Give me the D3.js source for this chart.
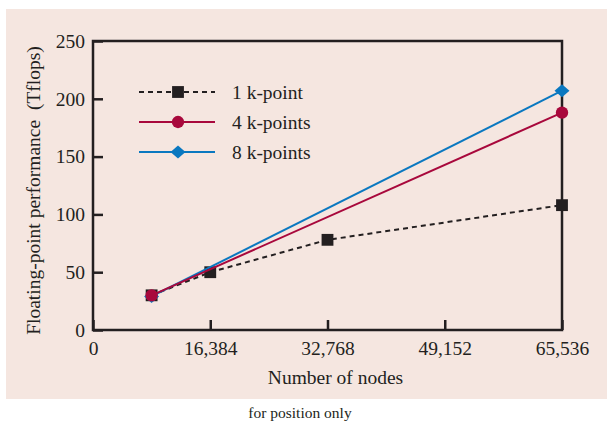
<!DOCTYPE html>
<html>
<head>
<meta charset="utf-8">
<script src="https://cdn.jsdelivr.net/npm/d3@7"></script>
<style>
  body { margin: 0; background: #fff; }
  svg text { font-family: "Liberation Serif", "Times New Roman", serif; fill: #231f20; }
</style>
</head>
<body>
<script>
const nodes1 = [8192, 16384, 32768, 65536]
const perf1 = [30, 50, 78, 108]
const nodes4 = [8192, 65536]
const perf4 = [30, 188]
const nodes8 = [8192, 65536]
const perf8 = [29, 207]
const xTicks = [0, 16384, 32768, 49152, 65536]
const yTicks = [0, 50, 100, 150, 200, 250]

// square turned 45 degrees, a bit wider than tall
const wideDiamond = {
  draw(ctx, size) {
    const h = Math.sqrt(size) * 0.62
    const w = h * 1.15
    ctx.moveTo(-w, 0)
    ctx.lineTo(0, -h)
    ctx.lineTo(w, 0)
    ctx.lineTo(0, h)
    ctx.closePath()
  }
}

const series = [
  { name: '1 k-point', xs: nodes1, ys: perf1, color: '#231f20', dash: '5,4', shape: d3.symbolSquare, size: 140 },
  { name: '8 k-points', xs: nodes8, ys: perf8, color: '#0a78c0', dash: null, shape: wideDiamond, size: 110 },
  { name: '4 k-points', xs: nodes4, ys: perf4, color: '#a8083c', dash: null, shape: d3.symbolCircle, size: 120 }
]
const legendOrder = ['1 k-point', '4 k-points', '8 k-points']

const width = 607
const height = 421
const mLeft = 93, mRight = 562, mTop = 41, mBottom = 330

const svg = d3.select('body')
  .append('svg')
  .attr('width', width)
  .attr('height', height)

svg.append('rect')
  .attr('x', 6).attr('y', 9)
  .attr('width', width - 6).attr('height', 390)
  .attr('fill', '#f5e6e0')

const x = d3.scaleLinear().domain([0, 65536]).range([mLeft, mRight])
const y = d3.scaleLinear().domain([0, 250]).range([mBottom, mTop])

const xAxis = svg.append('g')
  .attr('transform', `translate(0,${mBottom})`)
  .call(d3.axisBottom(x).tickValues(xTicks).tickFormat(d3.format(',')).tickSize(-10).tickPadding(11))
const yAxis = svg.append('g')
  .attr('transform', `translate(${mLeft},0)`)
  .call(d3.axisLeft(y).tickValues(yTicks).tickSize(-10).tickPadding(8))

for (const ax of [xAxis, yAxis]) {
  ax.select('.domain').remove()
  ax.selectAll('line').attr('stroke', '#231f20').attr('stroke-width', 2.5)
  ax.selectAll('text').attr('font-size', 19.5).attr('fill', '#231f20')
}

svg.append('rect')
  .attr('x', mLeft).attr('y', mTop)
  .attr('width', mRight - mLeft).attr('height', mBottom - mTop)
  .attr('fill', 'none')
  .attr('stroke', '#231f20')
  .attr('stroke-width', 2.5)

const line = d3.line()

series.forEach(s => {
  const pts = s.xs.map((v, i) => [x(v), y(s.ys[i])])
  svg.append('path')
    .attr('d', line(pts))
    .attr('fill', 'none')
    .attr('stroke', s.color)
    .attr('stroke-width', 2)
    .attr('stroke-dasharray', s.dash)
  svg.selectAll(null)
    .data(pts)
    .enter()
    .append('path')
    .attr('d', d3.symbol(s.shape, s.size))
    .attr('transform', d => `translate(${d[0]},${d[1]})`)
    .attr('fill', s.color)
})

// legend
legendOrder.forEach((name, i) => {
  const s = series.find(d => d.name === name)
  const ly = 92 + i * 30
  svg.append('line')
    .attr('x1', 139).attr('x2', 215)
    .attr('y1', ly).attr('y2', ly)
    .attr('stroke', s.color)
    .attr('stroke-width', 2)
    .attr('stroke-dasharray', s.dash)
  svg.append('path')
    .attr('d', d3.symbol(s.shape, s.size))
    .attr('transform', `translate(178,${ly})`)
    .attr('fill', s.color)
  svg.append('text')
    .attr('x', 232).attr('y', ly + 7)
    .attr('font-size', 19.5)
    .text(name)
})

svg.append('text')
  .attr('x', (mLeft + mRight) / 2 + 8)
  .attr('y', 384)
  .attr('text-anchor', 'middle')
  .attr('font-size', 19.5)
  .text('Number of nodes')

svg.append('text')
  .attr('transform', `translate(40,${(mTop + mBottom) / 2 + 5}) rotate(-90)`)
  .attr('text-anchor', 'middle')
  .attr('font-size', 19.5)
  .attr('xml:space', 'preserve')
  .text('Floating-point performance  (Tflops)')

svg.append('text')
  .attr('x', 300)
  .attr('y', 418)
  .attr('text-anchor', 'middle')
  .attr('font-size', 15.5)
  .text('for position only')
</script>
</body>
</html>
